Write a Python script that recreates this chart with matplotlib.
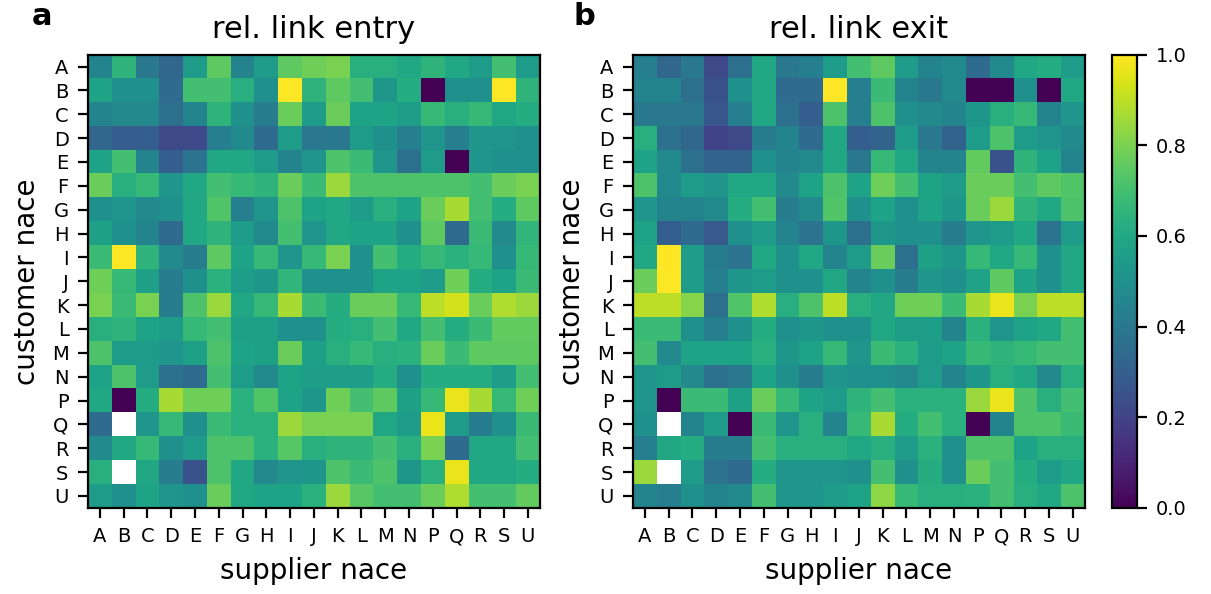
import numpy as np
import matplotlib
matplotlib.use('Agg')
import matplotlib.pyplot as plt

plt.rcParams['xtick.major.size'] = 7
plt.rcParams['ytick.major.size'] = 7
plt.rcParams['xtick.major.width'] = 1.6
plt.rcParams['ytick.major.width'] = 1.6
plt.rcParams['xtick.major.pad'] = 7
plt.rcParams['ytick.major.pad'] = 7
plt.rcParams['axes.linewidth'] = 1.6
plt.rcParams['axes.labelpad'] = 8

nace = ['A', 'B', 'C', 'D', 'E', 'F', 'G', 'H', 'I', 'J', 'K', 'L', 'M', 'N', 'P', 'Q', 'R', 'S', 'U']
nan = np.nan

# rows: customer nace, columns: supplier nace
entry = [
    [0.45, 0.65, 0.40, 0.33, 0.55, 0.75, 0.45, 0.55, 0.75, 0.78, 0.80, 0.63, 0.63, 0.60, 0.65, 0.60, 0.55, 0.70, 0.55],
    [0.58, 0.50, 0.50, 0.35, 0.70, 0.70, 0.63, 0.50, 1.00, 0.65, 0.75, 0.70, 0.53, 0.62, 0.00, 0.50, 0.50, 1.00, 0.65],
    [0.45, 0.47, 0.47, 0.37, 0.45, 0.65, 0.50, 0.42, 0.77, 0.55, 0.77, 0.58, 0.58, 0.56, 0.67, 0.63, 0.67, 0.60, 0.62],
    [0.33, 0.30, 0.30, 0.22, 0.22, 0.43, 0.48, 0.35, 0.55, 0.40, 0.40, 0.55, 0.50, 0.43, 0.52, 0.43, 0.52, 0.52, 0.50],
    [0.58, 0.70, 0.45, 0.30, 0.38, 0.60, 0.60, 0.55, 0.45, 0.52, 0.72, 0.68, 0.52, 0.37, 0.55, 0.00, 0.52, 0.50, 0.50],
    [0.77, 0.63, 0.67, 0.52, 0.60, 0.70, 0.67, 0.65, 0.77, 0.68, 0.85, 0.72, 0.72, 0.72, 0.72, 0.72, 0.70, 0.77, 0.80],
    [0.50, 0.52, 0.47, 0.50, 0.60, 0.73, 0.43, 0.52, 0.72, 0.58, 0.60, 0.55, 0.63, 0.58, 0.77, 0.87, 0.70, 0.62, 0.75],
    [0.57, 0.50, 0.45, 0.35, 0.60, 0.65, 0.55, 0.48, 0.70, 0.52, 0.60, 0.58, 0.58, 0.50, 0.75, 0.35, 0.68, 0.48, 0.66],
    [0.68, 1.00, 0.65, 0.48, 0.42, 0.75, 0.58, 0.67, 0.52, 0.67, 0.80, 0.50, 0.70, 0.62, 0.67, 0.64, 0.67, 0.50, 0.67],
    [0.78, 0.67, 0.57, 0.42, 0.50, 0.64, 0.56, 0.53, 0.66, 0.50, 0.50, 0.50, 0.58, 0.58, 0.55, 0.78, 0.62, 0.58, 0.68],
    [0.80, 0.68, 0.80, 0.42, 0.72, 0.85, 0.60, 0.67, 0.87, 0.68, 0.62, 0.77, 0.77, 0.67, 0.90, 0.93, 0.77, 0.88, 0.85],
    [0.63, 0.65, 0.58, 0.55, 0.67, 0.70, 0.57, 0.57, 0.50, 0.50, 0.62, 0.63, 0.70, 0.60, 0.70, 0.62, 0.68, 0.76, 0.76],
    [0.72, 0.55, 0.55, 0.52, 0.57, 0.72, 0.58, 0.57, 0.77, 0.57, 0.63, 0.67, 0.63, 0.64, 0.77, 0.68, 0.75, 0.75, 0.75],
    [0.58, 0.72, 0.55, 0.37, 0.35, 0.70, 0.55, 0.48, 0.58, 0.56, 0.56, 0.56, 0.62, 0.50, 0.62, 0.62, 0.62, 0.56, 0.70],
    [0.60, 0.00, 0.62, 0.87, 0.78, 0.78, 0.64, 0.73, 0.58, 0.53, 0.78, 0.70, 0.75, 0.57, 0.67, 0.97, 0.87, 0.67, 0.78],
    [0.35, nan,  0.52, 0.67, 0.50, 0.68, 0.64, 0.64, 0.85, 0.80, 0.80, 0.80, 0.60, 0.55, 0.97, 0.55, 0.42, 0.50, 0.68],
    [0.48, 0.60, 0.67, 0.50, 0.55, 0.72, 0.72, 0.64, 0.74, 0.63, 0.65, 0.65, 0.70, 0.63, 0.80, 0.35, 0.60, 0.60, 0.70],
    [0.63, nan,  0.60, 0.42, 0.25, 0.72, 0.60, 0.47, 0.52, 0.53, 0.72, 0.68, 0.72, 0.53, 0.64, 0.97, 0.60, 0.60, 0.62],
    [0.55, 0.50, 0.58, 0.52, 0.50, 0.77, 0.60, 0.58, 0.58, 0.64, 0.85, 0.74, 0.70, 0.70, 0.77, 0.88, 0.70, 0.70, 0.76],
]

exit_ = [
    [0.43, 0.33, 0.40, 0.22, 0.37, 0.60, 0.40, 0.43, 0.55, 0.70, 0.75, 0.55, 0.45, 0.48, 0.35, 0.48, 0.60, 0.62, 0.55],
    [0.45, 0.45, 0.37, 0.25, 0.50, 0.60, 0.35, 0.35, 1.00, 0.43, 0.68, 0.45, 0.40, 0.48, 0.00, 0.00, 0.50, 0.00, 0.60],
    [0.40, 0.40, 0.40, 0.27, 0.43, 0.60, 0.37, 0.30, 0.72, 0.43, 0.72, 0.50, 0.47, 0.45, 0.53, 0.63, 0.67, 0.45, 0.52],
    [0.63, 0.37, 0.33, 0.20, 0.22, 0.42, 0.45, 0.35, 0.60, 0.30, 0.32, 0.55, 0.40, 0.32, 0.55, 0.72, 0.55, 0.52, 0.48],
    [0.58, 0.48, 0.37, 0.32, 0.32, 0.50, 0.45, 0.48, 0.60, 0.40, 0.67, 0.60, 0.45, 0.45, 0.76, 0.25, 0.65, 0.58, 0.45],
    [0.72, 0.48, 0.55, 0.52, 0.60, 0.60, 0.48, 0.58, 0.72, 0.58, 0.78, 0.70, 0.58, 0.55, 0.77, 0.77, 0.70, 0.75, 0.73],
    [0.52, 0.45, 0.45, 0.48, 0.62, 0.70, 0.42, 0.48, 0.73, 0.50, 0.58, 0.50, 0.58, 0.53, 0.77, 0.85, 0.65, 0.60, 0.72],
    [0.58, 0.30, 0.35, 0.28, 0.50, 0.55, 0.45, 0.38, 0.53, 0.37, 0.53, 0.50, 0.50, 0.42, 0.52, 0.55, 0.60, 0.38, 0.55],
    [0.60, 1.00, 0.55, 0.42, 0.38, 0.60, 0.50, 0.60, 0.45, 0.55, 0.77, 0.37, 0.57, 0.53, 0.67, 0.60, 0.67, 0.50, 0.60],
    [0.77, 1.00, 0.55, 0.43, 0.53, 0.55, 0.50, 0.50, 0.60, 0.45, 0.50, 0.42, 0.52, 0.50, 0.58, 0.75, 0.58, 0.50, 0.60],
    [0.90, 0.90, 0.82, 0.37, 0.73, 0.88, 0.63, 0.72, 0.90, 0.63, 0.60, 0.78, 0.78, 0.68, 0.87, 0.97, 0.80, 0.90, 0.90],
    [0.68, 0.68, 0.50, 0.43, 0.50, 0.62, 0.50, 0.53, 0.50, 0.50, 0.60, 0.56, 0.56, 0.45, 0.64, 0.52, 0.58, 0.60, 0.70],
    [0.70, 0.48, 0.58, 0.58, 0.58, 0.63, 0.53, 0.58, 0.67, 0.52, 0.68, 0.64, 0.55, 0.58, 0.67, 0.65, 0.67, 0.70, 0.70],
    [0.52, 0.55, 0.47, 0.37, 0.40, 0.58, 0.50, 0.42, 0.52, 0.50, 0.50, 0.47, 0.55, 0.45, 0.53, 0.63, 0.60, 0.47, 0.63],
    [0.52, 0.00, 0.68, 0.68, 0.57, 0.77, 0.67, 0.58, 0.55, 0.65, 0.70, 0.64, 0.64, 0.64, 0.85, 0.97, 0.72, 0.63, 0.70],
    [0.50, nan,  0.45, 0.55, 0.00, 0.68, 0.52, 0.63, 0.45, 0.67, 0.87, 0.62, 0.70, 0.64, 0.00, 0.45, 0.72, 0.72, 0.68],
    [0.43, 0.60, 0.62, 0.42, 0.42, 0.70, 0.63, 0.63, 0.63, 0.60, 0.63, 0.55, 0.64, 0.50, 0.72, 0.72, 0.58, 0.63, 0.63],
    [0.85, nan,  0.55, 0.38, 0.35, 0.62, 0.52, 0.52, 0.52, 0.50, 0.70, 0.50, 0.62, 0.50, 0.77, 0.70, 0.62, 0.55, 0.60],
    [0.45, 0.43, 0.50, 0.45, 0.48, 0.70, 0.52, 0.52, 0.55, 0.58, 0.83, 0.67, 0.63, 0.63, 0.64, 0.70, 0.63, 0.60, 0.72],
]

fig = plt.figure(figsize=(12.11, 5.94), dpi=100)
ax1 = fig.add_axes([0.0727, 0.145, 0.373, 0.763])
ax2 = fig.add_axes([0.5227, 0.145, 0.373, 0.763])
cax = fig.add_axes([0.918, 0.145, 0.0206, 0.763])

panels = [(ax1, entry, 'rel. link entry', 'a', -0.124), (ax2, exit_, 'rel. link exit', 'b', -0.132)]
for ax, data, title, letter, lx in panels:
    im = ax.imshow(np.array(data), cmap='viridis', vmin=0, vmax=1, aspect='auto')
    ax.set_xticks(range(len(nace)))
    ax.set_xticklabels(nace, fontsize=14)
    ax.set_yticks(range(len(nace)))
    ax.set_yticklabels(nace, fontsize=14)
    ax.set_xlabel('supplier nace', fontsize=20)
    ax.set_ylabel('customer nace', fontsize=20)
    ax.set_title(title, fontsize=22, pad=12)
    ax.text(lx, 1.066, letter, transform=ax.transAxes, fontsize=22, fontweight='bold')

cb = fig.colorbar(im, cax=cax)
cb.ax.tick_params(labelsize=14)
cb.outline.set_linewidth(1.6)

plt.savefig('out.png', dpi=100)
